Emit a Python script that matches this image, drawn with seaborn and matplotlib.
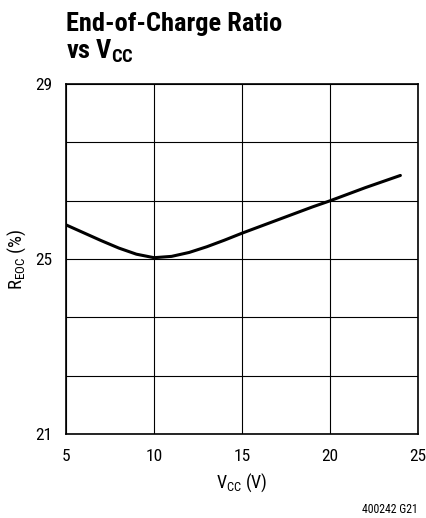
import numpy as np
import pandas as pd
import matplotlib
matplotlib.use("Agg")
import matplotlib.pyplot as plt
from matplotlib import font_manager
import seaborn as sns

# values
vcc = [5, 6, 7, 8, 9, 10, 11, 12, 13, 14, 15, 16, 17, 18, 19, 20, 21, 22, 23, 24]
reoc = [25.78, 25.60, 25.42, 25.25, 25.11, 25.03, 25.06, 25.15, 25.28, 25.43,
        25.59, 25.74, 25.89, 26.04, 26.19, 26.33, 26.48, 26.63, 26.77, 26.91]

x_ticks = [5, 10, 15, 20, 25]
y_ticks = [21, 25, 29]
y_grid = [21, 21 + 4 / 3, 21 + 8 / 3, 25, 25 + 4 / 3, 25 + 8 / 3, 29]

# pick a narrow family if one happens to be installed
installed = {f.name for f in font_manager.fontManager.ttflist}
main_font = "Liberation Sans"
for cand in ["Liberation Sans Narrow", "Roboto Condensed", "Open Sans Condensed",
             "DejaVu Sans Condensed", "Roboto"]:
    if cand in installed:
        main_font = cand
        break

sns.set_style("white")
plt.rcParams["font.family"] = [main_font, "DejaVu Sans"]
plt.rcParams["text.color"] = "black"
plt.rcParams["axes.labelcolor"] = "black"
plt.rcParams["xtick.color"] = "black"
plt.rcParams["ytick.color"] = "black"
plt.rcParams["mathtext.fontset"] = "custom"
plt.rcParams["mathtext.rm"] = main_font
plt.rcParams["mathtext.it"] = main_font
plt.rcParams["mathtext.bf"] = main_font + ":bold"

df = pd.DataFrame({"vcc": vcc, "reoc": reoc})

fig = plt.figure(figsize=(4.27, 5.18), dpi=100)
ax = fig.add_axes([66 / 427, 1 - 434 / 518, 352 / 427, 350 / 518])

# grid
for yv in y_grid:
    ax.axhline(yv, color="black", lw=0.8, zorder=1)
for xv in x_ticks:
    ax.axvline(xv, color="black", lw=0.8, zorder=1)

sns.lineplot(data=df, x="vcc", y="reoc", ax=ax, color="black", lw=2.2, zorder=3)

ax.set_xlim(5, 25)
ax.set_ylim(21, 29)
ax.set_xticks(x_ticks)
ax.set_yticks(y_ticks)
ax.tick_params(length=0, labelsize=12.5, pad=10)
ax.tick_params(axis="x", pad=11)
for s in ax.spines.values():
    s.set_color("black")
    s.set_linewidth(1.2)

ax.set_xlabel(r"V$_{\mathrm{CC}}$ (V)", fontsize=13, labelpad=5)
ax.set_ylabel(r"R$_{\mathrm{EOC}}$ (%)", fontsize=13.5, labelpad=5)

fig.text(66 / 427, 1 - 31 / 518, "End-of-Charge Ratio", fontsize=19,
         fontweight="bold", ha="left", va="baseline")
fig.text(66 / 427, 1 - 59 / 518, r"vs V$_{\mathbf{CC}}$", fontsize=19,
         fontweight="bold", ha="left", va="baseline")
fig.text(418 / 427, 1 - 513 / 518, "400242 G21", fontsize=8.5,
         ha="right", va="baseline")

fig.savefig("out.png", dpi=100)
